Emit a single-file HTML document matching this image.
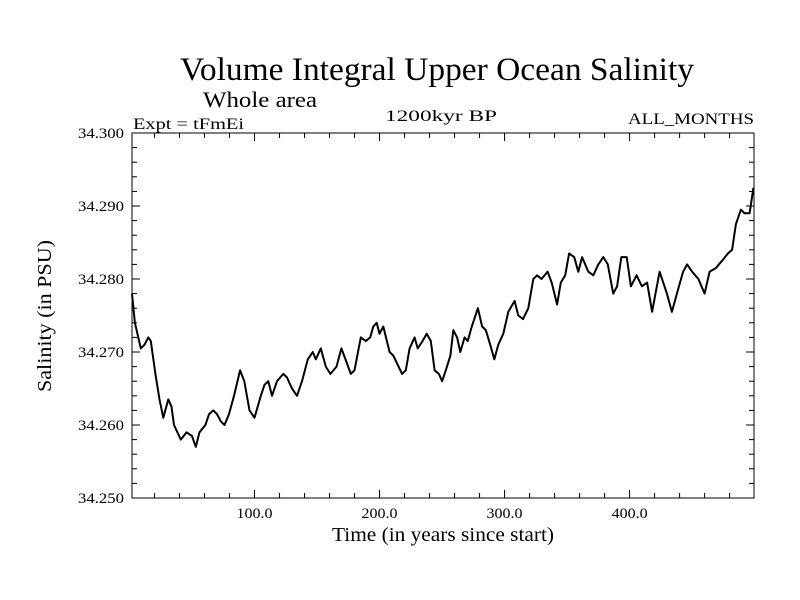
<!DOCTYPE html>
<html><head><meta charset="utf-8"><style>
body{margin:0;background:#fff}
svg{display:block;font-family:"Liberation Serif",serif}
</style></head><body>
<svg id="chart" width="800" height="600" viewBox="0 0 800 600">
<text x="180" y="80" font-size="33" textLength="514" lengthAdjust="spacingAndGlyphs">Volume Integral Upper Ocean Salinity</text>
<text x="203" y="107" font-size="22" textLength="114" lengthAdjust="spacingAndGlyphs">Whole area</text>
<text x="133" y="129" font-size="16" textLength="111" lengthAdjust="spacingAndGlyphs">Expt = tFmEi</text>
<text x="385" y="121" font-size="16" textLength="112" lengthAdjust="spacingAndGlyphs">1200kyr BP</text>
<text x="628" y="124" font-size="16" textLength="126" lengthAdjust="spacingAndGlyphs">ALL_MONTHS</text>
<text transform="translate(51,316) rotate(-90)" font-size="20" text-anchor="middle" textLength="152" lengthAdjust="spacingAndGlyphs">Salinity (in PSU)</text>
<text x="443" y="541" font-size="20" text-anchor="middle" textLength="222" lengthAdjust="spacingAndGlyphs">Time (in years since start)</text>
<g id="axes"></g>
<path id="line" fill="none" stroke="#000" stroke-width="2" stroke-linejoin="round"/>
<rect x="132" y="133" width="622" height="365" fill="none" stroke="#000" stroke-width="1"/>
</svg>
<script>
const years=[2,4.3,9,12,15,17,20.7,24,27,31,33.6,35.6,41,45.7,50,53,56,60.7,63.7,67,70,73,76,79.6,83.6,88.5,91.8,96,100,105,108,111,114,118,123,126,130,134,138,142.6,146.6,149,153,157,160.7,165.6,169.5,173.8,177,180,185,189,192.5,195,197.7,200,203,208,211,218,221,224,228,230.5,234.4,237.7,241,244,247.5,250,253,256.7,259,262,264.6,268,270.5,273.8,278.7,282,285,288.5,291.8,295,299,303,308,311,314.7,319,323,326,329.5,334.4,337.7,342,345,348.5,351.6,355.7,359,362,367,371,375,379,382.6,386.9,390,393.4,397.7,401,405.6,409.8,414,418,424,429.8,433.8,437.8,442.8,446,450,455,460,464,469,474,478.6,482,485,489,492,496,499];
const salinity=[34.278,34.274,34.2705,34.271,34.272,34.2715,34.267,34.2635,34.261,34.2635,34.2625,34.260,34.258,34.259,34.2585,34.257,34.259,34.260,34.2615,34.262,34.2615,34.2605,34.260,34.2615,34.264,34.2675,34.266,34.262,34.261,34.264,34.2655,34.266,34.264,34.266,34.267,34.2665,34.265,34.264,34.266,34.269,34.270,34.269,34.2705,34.268,34.267,34.268,34.2705,34.2685,34.267,34.2675,34.272,34.2715,34.272,34.2735,34.274,34.2725,34.2735,34.270,34.2695,34.267,34.2675,34.2705,34.272,34.2705,34.2715,34.2725,34.2715,34.2675,34.267,34.266,34.2675,34.2695,34.273,34.272,34.270,34.272,34.2715,34.2735,34.276,34.2735,34.273,34.271,34.269,34.271,34.2725,34.2755,34.277,34.275,34.2745,34.276,34.280,34.2805,34.280,34.281,34.2795,34.2765,34.2795,34.2805,34.2835,34.283,34.281,34.283,34.281,34.2805,34.282,34.283,34.282,34.278,34.279,34.283,34.283,34.279,34.2805,34.279,34.2795,34.2755,34.281,34.278,34.2755,34.278,34.281,34.282,34.281,34.280,34.278,34.281,34.2815,34.2825,34.2835,34.284,34.2875,34.2895,34.289,34.289,34.2925];
const xTickValues=[100,200,300,400];
const xTickLabels=["100.0","200.0","300.0","400.0"];
const yTickValues=[34.25,34.26,34.27,34.28,34.29,34.30];
const yTickLabels=["34.250","34.260","34.270","34.280","34.290","34.300"];
const X0=132,X1=754,Y0=498,Y1=133,xmin=2,xmax=499.5,ymin=34.25,ymax=34.30;
const xs=v=>X0+(v-xmin)/(xmax-xmin)*(X1-X0);
const ys=v=>Y0-(v-ymin)/(ymax-ymin)*(Y0-Y1);
const NS="http://www.w3.org/2000/svg";
const axes=document.getElementById('axes');
function ln(x1,y1,x2,y2,name){const l=document.createElementNS(NS,'line');
l.setAttribute('x1',x1);l.setAttribute('y1',y1);l.setAttribute('x2',x2);l.setAttribute('y2',y2);l.setAttribute('stroke','#000');


axes.appendChild(l);}
function tx(x,y,s,anchor,name,w){const t=document.createElementNS(NS,'text');
t.setAttribute('x',x);t.setAttribute('y',y);t.setAttribute('font-size','15');t.setAttribute('text-anchor',anchor);t.textContent=s;
t.setAttribute('textLength',w);t.setAttribute('lengthAdjust','spacingAndGlyphs');


axes.appendChild(t);}
for(let v=20;v<=480;v+=20){const x=xs(v);const major=v%100===0;const L=major?8:5;
ln(x,Y0,x,Y0-L,'x-tick');ln(x,Y1,x,Y1+L,'x-tick-top');}
for(let i=0;i<=25;i++){const v=ymin+i*0.002;const y=ys(v);const major=i%5===0;const L=major?8:5;
ln(X0,y,X0+L,y,'y-tick');ln(X1,y,X1-L,y,'y-tick-right');}
xTickValues.forEach((v,i)=>tx(xs(v),518,xTickLabels[i],'middle','x-tick-label',36));
yTickValues.forEach((v,i)=>tx(124,ys(v)+5,yTickLabels[i],'end','y-tick-label',46));
document.getElementById('line').setAttribute('d',years.map((y,i)=>(i?'L':'M')+xs(y).toFixed(1)+','+ys(salinity[i]).toFixed(1)).join(''));
</script>
</body></html>
